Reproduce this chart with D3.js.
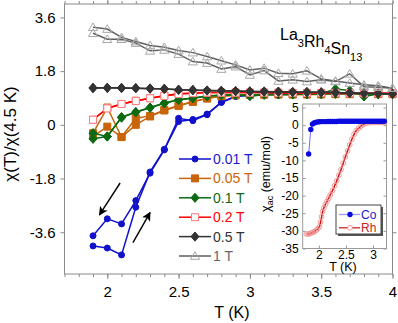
<!DOCTYPE html>
<html>
<head>
<meta charset="utf-8">
<script src="https://cdn.jsdelivr.net/npm/d3@7"></script>
<style>
  body { margin: 0; background: #fff; }
  svg { font-family: "Liberation Sans", Arial, sans-serif; }
</style>
</head>
<body>
<div id="chart-container"></div>
<script>
// temperatures (K) of the main panel
const temps = [1.9, 2.0, 2.1, 2.2, 2.3, 2.4, 2.5, 2.6, 2.7, 2.8, 2.9, 3.0, 3.1, 3.2, 3.3, 3.4, 3.5, 3.6, 3.7, 3.8, 3.9, 4.0];

// chi(T)/chi(4.5 K), two sweeps per field
const chi001A = [-3.72, -3.15, -3.32, -2.54, -1.62, -0.84, 0.22, 0.14, 0.34, 0.75, 0.95, 1.00, 1.02, 1.03, 1.03, 1.03, 1.03, 1.03, 1.03, 1.03, 1.03, 1.03];
const chi001B = [-4.06, -4.13, -4.36, -2.76, -1.58, -0.82, 0.11, 0.18, 0.36, 0.76, 0.96, 1.00, 1.02, 1.03, 1.03, 1.03, 1.03, 1.03, 1.03, 1.03, 1.03, 1.03];
const chi005A = [-0.28, 0.58, -0.41, 0.22, 0.30, 0.50, 0.65, 0.78, 0.88, 0.97, 1.00, 1.01, 1.02, 1.02, 1.02, 1.02, 1.03, 1.03, 1.03, 1.03, 1.03, 1.03];
const chi005B = [-0.39, -0.06, -0.41, 0.00, 0.28, 0.48, 0.63, 0.77, 0.89, 0.96, 0.99, 1.01, 1.01, 1.02, 1.02, 1.02, 1.02, 1.03, 1.03, 1.03, 1.03, 1.03];
const chi01A = [-0.28, -0.39, 0.26, 0.43, 0.58, 0.73, 0.84, 0.90, 0.97, 1.00, 1.01, 0.96, 1.01, 1.02, 1.02, 1.03, 1.04, 1.20, 1.15, 0.95, 1.03, 1.03];
const chi01B = [-0.47, -0.39, 0.24, 0.42, 0.57, 0.72, 0.84, 0.89, 0.96, 0.99, 1.00, 1.00, 1.01, 1.02, 1.02, 1.03, 1.03, 1.04, 1.06, 1.03, 1.03, 1.03];
const chi02A = [0.17, 0.56, 0.70, 0.81, 0.89, 0.98, 1.04, 1.07, 1.08, 1.08, 1.08, 1.08, 1.08, 1.08, 1.07, 1.07, 1.07, 1.07, 1.06, 1.06, 1.06, 1.06];
const chi02B = [0.17, 0.55, 0.70, 0.80, 0.89, 0.97, 1.03, 1.06, 1.08, 1.08, 1.08, 1.08, 1.08, 1.07, 1.07, 1.07, 1.07, 1.07, 1.06, 1.06, 1.06, 1.06];
const chi05A = [1.23, 1.24, 1.24, 1.23, 1.21, 1.21, 1.17, 1.17, 1.15, 1.14, 1.13, 1.12, 1.12, 1.11, 1.10, 1.10, 1.09, 1.08, 1.07, 1.06, 1.05, 1.04];
const chi05B = [1.24, 1.24, 1.23, 1.23, 1.22, 1.20, 1.18, 1.16, 1.15, 1.14, 1.13, 1.12, 1.11, 1.11, 1.10, 1.09, 1.09, 1.08, 1.07, 1.06, 1.05, 1.04];
const chi1A = [3.27, 3.21, 2.93, 2.79, 2.66, 2.60, 2.49, 2.42, 2.29, 2.15, 2.01, 1.84, 1.90, 1.73, 1.71, 1.81, 1.54, 1.47, 1.40, 1.34, 1.31, 1.23];
const chi1B = [3.07, 2.87, 2.87, 2.74, 2.48, 2.51, 2.37, 2.12, 2.07, 1.87, 1.95, 1.67, 1.82, 1.47, 1.51, 1.45, 1.51, 1.45, 1.71, 1.28, 1.26, 1.23];

const fieldLabels = ["0.01 T", "0.05 T", "0.1 T", "0.2 T", "0.5 T", "1 T"];
const xTicks = [2, 2.5, 3, 3.5, 4];
const yTicks = [-3.6, -1.8, 0, 1.8, 3.6];

// inset: chi_ac (emu/mol)
const coT = [1.81, 1.85, 1.88, 1.91, 1.94, 1.97, 2.01, 2.05, 2.09, 2.13, 2.17, 2.21, 2.25, 2.29, 2.33, 2.37, 2.41, 2.45, 2.49, 2.53, 2.57, 2.61, 2.65, 2.69, 2.73, 2.77, 2.81, 2.85, 2.89, 2.93, 2.97, 3.01, 3.05, 3.09, 3.13, 3.17, 3.21];
const coChi = [-8.2, -1.2, 0.3, 0.6, 0.8, 0.9, 0.95, 1.0, 1.0, 1.0, 1.05, 1.05, 1.05, 1.05, 1.05, 1.1, 1.1, 1.1, 1.1, 1.1, 1.1, 1.1, 1.1, 1.1, 1.1, 1.1, 1.1, 1.1, 1.1, 1.1, 1.1, 1.1, 1.1, 1.1, 1.1, 1.1, 1.1];
const rhT = [1.77, 1.80, 1.83, 1.86, 1.89, 1.92, 1.95, 1.98, 2.01, 2.03, 2.05, 2.07, 2.09, 2.12, 2.15, 2.18, 2.21, 2.25, 2.29, 2.33, 2.37, 2.41, 2.45, 2.49, 2.53, 2.57, 2.61, 2.65, 2.69, 2.73, 2.77, 2.81, 2.85, 2.89, 2.93, 2.97, 3.01, 3.05, 3.09, 3.13, 3.17, 3.21];
const rhChi = [-30.9, -30.9, -30.8, -30.6, -30.4, -30.2, -29.8, -29.4, -28.8, -27.5, -26.0, -24.5, -23.5, -22.5, -21.6, -20.8, -19.8, -18.6, -17.2, -15.8, -14.2, -12.6, -10.8, -9.0, -7.3, -5.6, -4.0, -2.6, -1.6, -0.9, -0.4, 0.1, 0.4, 0.6, 0.7, 0.8, 0.8, 0.8, 0.8, 0.8, 0.8, 0.8];
const insetXTicks = [2, 2.5, 3];
const insetYTicks = [5, 0, -5, -10, -15, -20, -25, -30, -35];

/**************************************************
 * Series styles
 **************************************************/
const series = [
  { label: fieldLabels[0], sweeps: [chi001A, chi001B], line: "#1111cc", text: "#1a1ad2", shape: "circle", fill: "#1111cc", stroke: "#1111cc" },
  { label: fieldLabels[1], sweeps: [chi005A, chi005B], line: "#c8640a", text: "#c8640a", shape: "square", fill: "#c8640a", stroke: "#c8640a" },
  { label: fieldLabels[2], sweeps: [chi01A, chi01B], line: "#0c6a12", text: "#0c6a12", shape: "diamond", fill: "#0c6a12", stroke: "#0c6a12" },
  { label: fieldLabels[3], sweeps: [chi02A, chi02B], line: "#ff0000", text: "#ff0000", shape: "square", fill: "#fff", stroke: "#ff7a7a", open: true },
  { label: fieldLabels[4], sweeps: [chi05A, chi05B], line: "#333333", text: "#333333", shape: "diamond", fill: "#333333", stroke: "#333333" },
  { label: fieldLabels[5], sweeps: [chi1A, chi1B], line: "#606060", text: "#666666", shape: "triangle", fill: "none", stroke: "#a8a8a8", open: true }
];

function markerPath(shape) {
  if (shape === "square") return "M-3.5,-3.5H3.5V3.5H-3.5Z";
  if (shape === "diamond") return "M0,-4.6L4,0L0,4.6L-4,0Z";
  if (shape === "triangle") return "M0,-4.3L4.6,3.3H-4.6Z";
  return null;
}

function drawMarker(g, s, cx, cy) {
  if (s.shape === "circle") {
    g.append("circle").attr("cx", cx).attr("cy", cy).attr("r", 3)
      .attr("fill", s.fill).attr("stroke", s.stroke);
  } else {
    g.append("path").attr("d", markerPath(s.shape))
      .attr("transform", `translate(${cx},${cy})`)
      .attr("fill", s.fill).attr("stroke", s.stroke).attr("stroke-width", 1);
  }
}

const W = 398, H = 323;
const svg = d3.select("#chart-container").append("svg")
  .attr("width", W).attr("height", H);

const x = d3.scaleLinear().domain([1.7, 4]).range([64.5, 392.5]);
const y = d3.scaleLinear().domain([-5, 4.05]).range([274, 4]);

const fmt = v => v === 0 ? "0" : d3.format(".1f")(v).replace("\u2212", "-");
const minorX = d3.range(17, 41).map(d => d / 10);

// frame + axes
svg.append("rect").attr("x", 64.5).attr("y", 4).attr("width", 328).attr("height", 270)
  .attr("fill", "none").attr("stroke", "#8a8a8a");

function styleAxis(g) {
  g.select(".domain").remove();
  g.selectAll(".tick line").attr("stroke", "#8a8a8a");
  g.selectAll(".tick text").attr("fill", "#000").attr("font-size", 15)
    .attr("font-family", "Liberation Sans, Arial, sans-serif");
}

svg.append("g").attr("transform", "translate(0,274)")
  .call(d3.axisBottom(x).tickValues(minorX).tickSize(3).tickFormat(""))
  .call(styleAxis);
svg.append("g").attr("transform", "translate(0,274)")
  .call(d3.axisBottom(x).tickValues(xTicks).tickSize(5).tickPadding(7).tickFormat(d3.format("")))
  .call(styleAxis);
svg.append("g").attr("transform", "translate(0,4)")
  .call(d3.axisTop(x).tickValues(minorX).tickSize(3).tickFormat(""))
  .call(styleAxis);
svg.append("g").attr("transform", "translate(0,4)")
  .call(d3.axisTop(x).tickValues(xTicks).tickSize(5).tickFormat(""))
  .call(styleAxis);
svg.append("g").attr("transform", "translate(64.5,0)")
  .call(d3.axisLeft(y).tickValues(yTicks).tickSize(4).tickPadding(5).tickFormat(fmt))
  .call(styleAxis);
svg.append("g").attr("transform", "translate(392.5,0)")
  .call(d3.axisRight(y).tickValues(yTicks).tickSize(4).tickFormat(""))
  .call(styleAxis);

// axis titles
svg.append("text").attr("x", 232).attr("y", 318).attr("text-anchor", "middle")
  .attr("font-size", 16).text("T (K)");
svg.append("text").attr("transform", "translate(15.5,134) rotate(-90)")
  .attr("text-anchor", "middle").attr("font-size", 17).text("χ(T)/χ(4.5 K)");

// compound label
const title = svg.append("text").attr("x", 280).attr("y", 40).attr("font-size", 16);
[["La", "3"], ["Rh", "4"], ["Sn", "13"]].forEach(([el, n]) => {
  title.append("tspan").attr("dy", 0).text(el);
  title.append("tspan").attr("font-size", 11).attr("dy", 7).text(n);
  title.append("tspan").attr("dy", -7).text("");
});

// data
const line = d3.line().x((d, i) => x(temps[i])).y(d => y(d));
series.forEach(s => {
  const g = svg.append("g");
  s.sweeps.forEach(vals => {
    g.append("path").datum(vals).attr("d", line)
      .attr("fill", "none").attr("stroke", s.line).attr("stroke-width", 1.5);
  });
  s.sweeps.forEach(vals => {
    vals.forEach((v, i) => drawMarker(g, s, x(temps[i]), y(v)));
  });
});

// arrows
const defs = svg.append("defs");
defs.append("marker").attr("id", "arr").attr("viewBox", "0 0 10 10")
  .attr("refX", 9).attr("refY", 5).attr("markerWidth", 9).attr("markerHeight", 9)
  .attr("orient", "auto").attr("markerUnits", "userSpaceOnUse")
  .append("path").attr("d", "M0,0L10,5L0,10L2.5,5Z").attr("fill", "#000");
const arrows = [[2.09, -1.95, 1.945, -3.02], [2.18, -3.95, 2.30, -2.94]];
arrows.forEach(a => {
  svg.append("line").attr("x1", x(a[0])).attr("y1", y(a[1]))
    .attr("x2", x(a[2])).attr("y2", y(a[3]))
    .attr("stroke", "#000").attr("stroke-width", 1.4).attr("marker-end", "url(#arr)");
});

// legend
series.forEach((s, i) => {
  const ly = 159 + i * 19.4;
  const g = svg.append("g");
  g.append("line").attr("x1", 179).attr("x2", 211).attr("y1", ly).attr("y2", ly)
    .attr("stroke", s.line).attr("stroke-width", 1.5);
  drawMarker(g, s, 195, ly);
  g.append("text").attr("x", 213).attr("y", ly + 5).attr("font-size", 14)
    .attr("fill", s.text).text(s.label);
});

/**************************************************
 * Inset
 **************************************************/
const ix = d3.scaleLinear().domain([1.7, 3.25]).range([302.7, 386.5]);
const iy = d3.scaleLinear().domain([-35, 6]).range([248.5, 104]);
const inset = svg.append("g");
inset.append("rect").attr("x", 302.7).attr("y", 104).attr("width", 83.8).attr("height", 144.5)
  .attr("fill", "#fff").attr("stroke", "#9a9a9a");

function styleInset(g) {
  g.select(".domain").remove();
  g.selectAll(".tick line").attr("stroke", "#9a9a9a");
  g.selectAll(".tick text").attr("fill", "#000").attr("font-size", 12);
}
inset.append("g").attr("transform", "translate(0,248.5)")
  .call(d3.axisBottom(ix).tickValues(insetXTicks).tickSize(-3).tickPadding(2).tickFormat(d3.format("")))
  .call(styleInset);
inset.append("g").attr("transform", "translate(0,104)")
  .call(d3.axisTop(ix).tickValues(insetXTicks).tickSize(-3).tickFormat(""))
  .call(styleInset);
inset.append("g").attr("transform", "translate(302.7,0)")
  .call(d3.axisLeft(iy).tickValues(insetYTicks).tickSize(-3).tickPadding(4).tickFormat(d => String(d)))
  .call(styleInset);
inset.append("g").attr("transform", "translate(386.5,0)")
  .call(d3.axisRight(iy).tickValues(insetYTicks).tickSize(-3).tickFormat(""))
  .call(styleInset);

inset.append("text").attr("x", 343).attr("y", 271).attr("text-anchor", "middle")
  .attr("font-size", 12.5).text("T (K)");
const iyl = inset.append("text").attr("transform", "translate(270,174) rotate(-90)")
  .attr("text-anchor", "middle").attr("font-size", 12.5);
iyl.append("tspan").text("χ");
iyl.append("tspan").attr("font-size", 9).attr("dy", 3).text("ac");
iyl.append("tspan").attr("dy", -3).text(" (emu/mol)");

const rhLine = d3.line().x((d, i) => ix(rhT[i])).y(d => iy(d)).curve(d3.curveMonotoneX);
inset.append("path").datum(rhChi).attr("d", rhLine)
  .attr("fill", "none").attr("stroke", "#cc1111").attr("stroke-width", 1.5);
rhChi.forEach((v, i) => inset.append("circle").attr("cx", ix(rhT[i])).attr("cy", iy(v)).attr("r", 2.4)
  .attr("fill", "none").attr("stroke", "#f09090").attr("stroke-width", 0.9));

const coLine = d3.line().x((d, i) => ix(coT[i])).y(d => iy(d));
inset.append("path").datum(coChi).attr("d", coLine)
  .attr("fill", "none").attr("stroke", "#6e6ef0").attr("stroke-width", 1);
coChi.forEach((v, i) => inset.append("circle").attr("cx", ix(coT[i])).attr("cy", iy(v)).attr("r", 2.7)
  .attr("fill", "#0a0ae0"));

// inset legend
inset.append("rect").attr("x", 338).attr("y", 207).attr("width", 45).attr("height", 29).attr("fill", "#555");
inset.append("rect").attr("x", 336).attr("y", 205).attr("width", 45).attr("height", 29)
  .attr("fill", "#fff").attr("stroke", "#444");
[["Co", "#9a9aff", "#1a1acc"], ["Rh", "#cc2222", "#cc2222"]].forEach(([name, lc, tc], i) => {
  const ly = 214.5 + i * 13.3;
  inset.append("line").attr("x1", 339).attr("x2", 360).attr("y1", ly).attr("y2", ly)
    .attr("stroke", lc).attr("stroke-width", 1.3);
  if (i === 0) inset.append("circle").attr("cx", 350).attr("cy", ly).attr("r", 2.7).attr("fill", "#0a0ae0");
  else inset.append("circle").attr("cx", 350).attr("cy", ly).attr("r", 2.4).attr("fill", "#fff")
    .attr("stroke", "#f09090").attr("stroke-width", 0.9);
  inset.append("text").attr("x", 361).attr("y", ly + 4.2).attr("font-size", 12).attr("fill", tc).text(name);
});
</script>
</body>
</html>
